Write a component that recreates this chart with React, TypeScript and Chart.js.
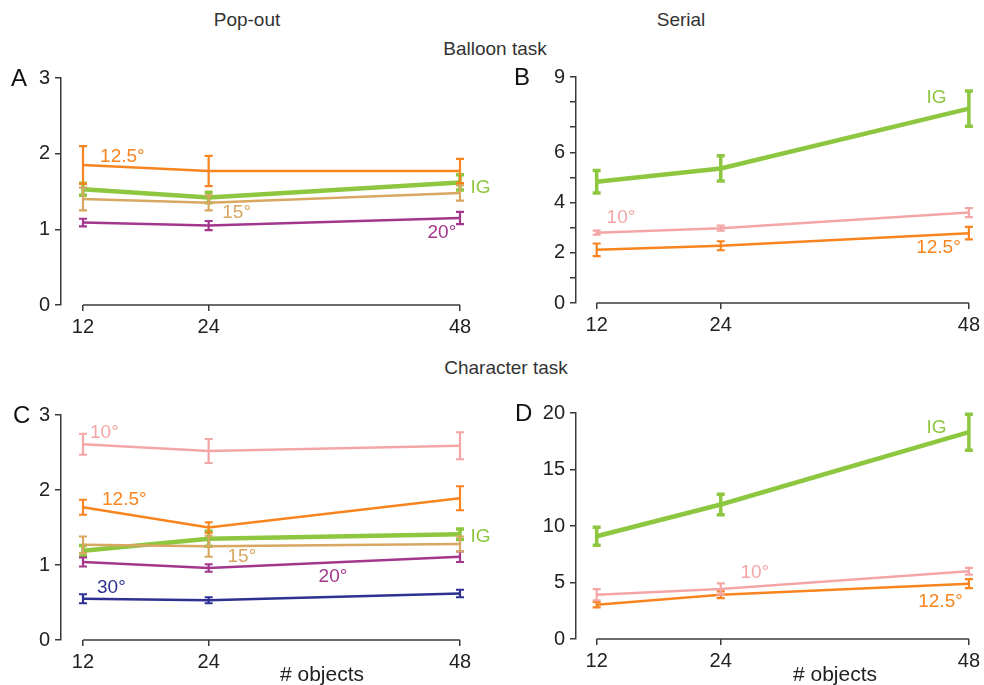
import React, { useEffect, useRef } from "react";
import { Chart, registerables } from "chart.js";

Chart.register(...registerables);

// ---------- data ----------
const objects = [12, 24, 48];

// Panel A: Pop-out, balloon task
const a125 = [1.85, 1.77, 1.77];
const a125Err = [0.25, 0.2, 0.16];
const aIG = [1.53, 1.42, 1.62];
const aIGErr = [0.08, 0.07, 0.1];
const a15 = [1.4, 1.35, 1.48];
const a15Err = [0.15, 0.1, 0.1];
const a20 = [1.09, 1.05, 1.15];
const a20Err = [0.05, 0.06, 0.08];

// Panel B: Serial, balloon task
const bIG = [4.83, 5.36, 7.74];
const bIGErr = [0.45, 0.5, 0.7];
const b10 = [2.8, 2.98, 3.6];
const b10Err = [0.08, 0.1, 0.18];
const b125 = [2.12, 2.28, 2.78];
const b125Err = [0.25, 0.18, 0.25];

// Panel C: Pop-out, character task
const c10 = [2.61, 2.52, 2.59];
const c10Err = [0.14, 0.16, 0.18];
const c125 = [1.77, 1.5, 1.89];
const c125Err = [0.1, 0.07, 0.16];
const cIG = [1.19, 1.35, 1.41];
const cIGErr = [0.07, 0.1, 0.07];
const c15 = [1.27, 1.25, 1.28];
const c15Err = [0.11, 0.14, 0.1];
const c20 = [1.04, 0.96, 1.11];
const c20Err = [0.06, 0.05, 0.07];
const c30 = [0.55, 0.53, 0.62];
const c30Err = [0.06, 0.04, 0.05];

// Panel D: Serial, character task
const dIG = [9.09, 11.9, 18.3];
const dIGErr = [0.8, 0.9, 1.6];
const d10 = [3.92, 4.42, 5.99];
const d10Err = [0.5, 0.5, 0.3];
const d125 = [3.04, 3.92, 4.9];
const d125Err = [0.25, 0.3, 0.4];

// tick labels
const yTicksA = [0, 1, 2, 3];
const yTicksB = [0, 2, 4, 6, 9];
const yTicksC = [0, 1, 2, 3];
const yTicksD = [0, 5, 10, 15, 20];

// ---------- styles ----------
const ORANGE = "#F7841F";
const GREEN = "#8DC63F";
const TAN = "#D8A761";
const PURPLE = "#A3378C";
const PINK = "#F4A6A6";
const BLUE = "#2E3192";
const AXIS = "#3a3a3a";
const FONT = "'Liberation Sans', Arial, sans-serif";

type Series = { values: number[]; errors: number[]; color: string; thick?: boolean };
type Note = { text: string; x: number; y: number; color: string };
type Panel = {
  letter: string;
  left: number;
  top: number;
  width: number;
  height: number;
  area: { left: number; top: number; right: number; bottom: number };
  xMin: number;
  yMax: number;
  yStep: number;
  yLabels: number[];
  series: Series[];
  notes: Note[];
};

const panels: Panel[] = [
  {
    letter: "A",
    left: 0, top: 60, width: 500, height: 280,
    area: { left: 61, top: 18, right: 460, bottom: 245 },
    xMin: 9.9, yMax: 3, yStep: 1, yLabels: yTicksA,
    series: [
      { values: a125, errors: a125Err, color: ORANGE },
      { values: a15, errors: a15Err, color: TAN },
      { values: a20, errors: a20Err, color: PURPLE },
      { values: aIG, errors: aIGErr, color: GREEN, thick: true },
    ],
    notes: [
      { text: "12.5°", x: 13.63, y: 1.96, color: ORANGE },
      { text: "IG", x: 49.0, y: 1.55, color: GREEN },
      { text: "15°", x: 25.3, y: 1.22, color: TAN },
      { text: "20°", x: 44.9, y: 0.96, color: PURPLE },
    ],
  },
  {
    letter: "B",
    left: 490, top: 60, width: 494, height: 280,
    area: { left: 86, top: 17, right: 483, bottom: 243 },
    xMin: 10, yMax: 9, yStep: 1, yLabels: yTicksB,
    series: [
      { values: b10, errors: b10Err, color: PINK },
      { values: b125, errors: b125Err, color: ORANGE },
      { values: bIG, errors: bIGErr, color: GREEN, thick: true },
    ],
    notes: [
      { text: "IG", x: 43.9, y: 8.17, color: GREEN },
      { text: "10°", x: 12.96, y: 3.39, color: PINK },
      { text: "12.5°", x: 42.9, y: 2.19, color: ORANGE },
    ],
  },
  {
    letter: "C",
    left: 0, top: 390, width: 500, height: 295,
    area: { left: 61, top: 25, right: 460, bottom: 250 },
    xMin: 9.9, yMax: 3, yStep: 1, yLabels: yTicksC,
    series: [
      { values: c10, errors: c10Err, color: PINK },
      { values: c125, errors: c125Err, color: ORANGE },
      { values: c15, errors: c15Err, color: TAN },
      { values: c20, errors: c20Err, color: PURPLE },
      { values: c30, errors: c30Err, color: BLUE },
      { values: cIG, errors: cIGErr, color: GREEN, thick: true },
    ],
    notes: [
      { text: "10°", x: 12.67, y: 2.76, color: PINK },
      { text: "12.5°", x: 13.82, y: 1.87, color: ORANGE },
      { text: "IG", x: 49.0, y: 1.37, color: GREEN },
      { text: "15°", x: 25.8, y: 1.11, color: TAN },
      { text: "20°", x: 34.5, y: 0.84, color: PURPLE },
      { text: "30°", x: 13.34, y: 0.69, color: BLUE },
    ],
  },
  {
    letter: "D",
    left: 490, top: 390, width: 494, height: 295,
    area: { left: 86, top: 23, right: 483, bottom: 249 },
    xMin: 10, yMax: 20, yStep: 5, yLabels: yTicksD,
    series: [
      { values: d10, errors: d10Err, color: PINK },
      { values: d125, errors: d125Err, color: ORANGE },
      { values: dIG, errors: dIGErr, color: GREEN, thick: true },
    ],
    notes: [
      { text: "IG", x: 43.9, y: 18.7, color: GREEN },
      { text: "10°", x: 25.9, y: 5.84, color: PINK },
      { text: "12.5°", x: 43.1, y: 3.27, color: ORANGE },
    ],
  },
];

const errorBarPlugin = {
  id: "errorBars",
  afterDatasetDraw(chart: any, args: any) {
    const ds = chart.data.datasets[args.index];
    if (!ds.errors) return;
    const ys = chart.scales.y;
    const ctx = chart.ctx;
    ctx.save();
    ctx.strokeStyle = ds.borderColor;
    ctx.lineWidth = ds.errWidth;
    ctx.lineCap = "butt";
    args.meta.data.forEach((pt: any, i: number) => {
      const v = ds.data[i].y;
      const e = ds.errors[i];
      const yT = ys.getPixelForValue(v + e);
      const yB = ys.getPixelForValue(v - e);
      const x = pt.x;
      const cap = 4;
      ctx.beginPath();
      ctx.moveTo(x, yT);
      ctx.lineTo(x, yB);
      ctx.moveTo(x - cap, yT);
      ctx.lineTo(x + cap, yT);
      ctx.moveTo(x - cap, yB);
      ctx.lineTo(x + cap, yB);
      ctx.stroke();
    });
    ctx.restore();
  },
};

const decorPlugin = {
  id: "decor",
  afterDraw(chart: any, _args: any, opts: any) {
    const ctx = chart.ctx;
    const xs = chart.scales.x;
    const ys = chart.scales.y;
    const area = chart.chartArea;
    ctx.save();
    ctx.strokeStyle = AXIS;
    ctx.lineWidth = 1.5;
    ctx.beginPath();
    ctx.moveTo(xs.getPixelForValue(objects[0]), area.bottom);
    ctx.lineTo(xs.getPixelForValue(objects[objects.length - 1]), area.bottom);
    ctx.stroke();
    ctx.font = `19px ${FONT}`;
    ctx.textAlign = "left";
    ctx.textBaseline = "middle";
    (opts.notes || []).forEach((n: Note) => {
      ctx.fillStyle = n.color;
      ctx.fillText(n.text, xs.getPixelForValue(n.x), ys.getPixelForValue(n.y));
    });
    ctx.restore();
  },
};

function PanelChart({ p }: { p: Panel }) {
  const ref = useRef<HTMLCanvasElement | null>(null);
  useEffect(() => {
    if (!ref.current) return;
    const chart = new Chart(ref.current, {
      type: "line",
      data: {
        datasets: p.series.map((s) => ({
          data: objects.map((x, i) => ({ x, y: s.values[i] })),
          errors: s.errors,
          errWidth: s.thick ? 3.5 : 2.2,
          borderColor: s.color,
          borderWidth: s.thick ? 4.5 : 2.5,
          pointRadius: 0,
          tension: 0,
          clip: false,
          fill: false,
        })) as any,
      },
      options: {
        animation: false,
        responsive: false,
        events: [],
        layout: {
          padding: {
            left: 0,
            top: p.area.top,
            right: p.width - p.area.right,
            bottom: 0,
          },
        },
        plugins: {
          legend: { display: false },
          tooltip: { enabled: false },
          decor: { notes: p.notes },
        } as any,
        scales: {
          x: {
            type: "linear",
            min: p.xMin,
            max: objects[objects.length - 1],
            afterBuildTicks: (scale: any) => {
              scale.ticks = objects.map((v) => ({ value: v }));
            },
            afterFit: (scale: any) => {
              scale.height = p.height - p.area.bottom;
            },
            border: { display: false },
            grid: {
              display: true,
              drawOnChartArea: false,
              drawTicks: true,
              tickLength: 6,
              color: AXIS,
              lineWidth: 1.5,
            },
            ticks: {
              color: "#222",
              font: { size: 20, family: FONT },
              padding: 4,
              maxRotation: 0,
              autoSkip: false,
              callback: (v: any) => String(v),
            },
          },
          y: {
            type: "linear",
            min: 0,
            max: p.yMax,
            afterBuildTicks: (scale: any) => {
              const t: any[] = [];
              for (let v = 0; v <= p.yMax + 1e-9; v += p.yStep) t.push({ value: v });
              scale.ticks = t;
            },
            afterFit: (scale: any) => {
              scale.width = p.area.left;
            },
            border: { display: true, color: AXIS, width: 1.5 },
            grid: {
              display: true,
              drawOnChartArea: false,
              drawTicks: true,
              tickLength: 6,
              color: AXIS,
              lineWidth: 1.5,
            },
            ticks: {
              color: "#222",
              font: { size: 20, family: FONT },
              padding: 5,
              autoSkip: false,
              callback: (v: any) => (p.yLabels.includes(Number(v)) ? String(v) : ""),
            },
          },
        },
      } as any,
      plugins: [errorBarPlugin, decorPlugin],
    });
    return () => chart.destroy();
  }, [p]);
  return (
    <canvas
      ref={ref}
      width={p.width}
      height={p.height}
      style={{ position: "absolute", left: p.left, top: p.top, width: p.width, height: p.height }}
    />
  );
}

const textBase: React.CSSProperties = {
  position: "absolute",
  fontFamily: FONT,
  color: "#333",
  whiteSpace: "nowrap",
  lineHeight: 1,
};

function Label({ text, cx, cy, size, left, color }: { text: string; cx?: number; cy: number; size: number; left?: number; color?: string }) {
  const style: React.CSSProperties = {
    ...textBase,
    fontSize: size,
    top: cy - size / 2,
    color: color || "#333",
  };
  if (left !== undefined) style.left = left;
  else {
    style.left = cx;
    style.transform = "translateX(-50%)";
  }
  return <div style={style}>{text}</div>;
}

export default function App() {
  return (
    <div style={{ position: "absolute", left: 0, top: 0, width: 984, height: 685, background: "#fff", overflow: "hidden" }}>
      {panels.map((p) => (
        <PanelChart key={p.letter} p={p} />
      ))}
      <Label text="Pop-out" cx={247} cy={19} size={19} />
      <Label text="Serial" cx={681} cy={19} size={19} />
      <Label text="Balloon task" cx={495} cy={48} size={19} />
      <Label text="Character task" cx={506} cy={367} size={19} />
      <Label text="A" left={11} cy={78} size={24} color="#111" />
      <Label text="B" left={514} cy={77} size={24} color="#111" />
      <Label text="C" left={13} cy={415} size={24} color="#111" />
      <Label text="D" left={515} cy={413} size={24} color="#111" />
      <Label text="# objects" left={280} cy={673} size={21} color="#222" />
      <Label text="# objects" left={793} cy={673} size={21} color="#222" />
    </div>
  );
}
